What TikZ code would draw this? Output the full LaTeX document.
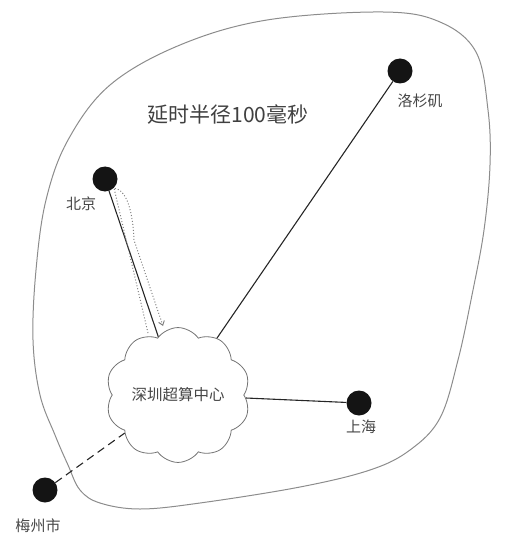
\documentclass[tikz,border=0pt]{standalone}
\usepackage{fontspec}
\newfontfamily\cjk{Noto Sans CJK SC}
\usetikzlibrary{shapes.symbols,arrows.meta}

\begin{document}
\begin{tikzpicture}[x=1pt,y=-1pt,
		city/.style={circle,fill=black!92,minimum size=25pt,inner sep=0pt},
		place/.style={font=\cjk\fontsize{15}{15}\selectfont,text=black!72,inner sep=1pt},
		link/.style={draw=black!85,line width=1.1pt},
	]
	\useasboundingbox (0,0) rectangle (508,548);
	% latency region
	\draw[black!45,line width=1pt] plot[smooth cycle,tension=0.6] coordinates {
		(267,20) (383,12) (440,22) (476,52) (488,110) (490,165) (484,230)
		(472,295) (458,360) (440,418) (410,450) (370,470) (300,487) (200,503)
		(140,509) (100,503) (80,490) (68,465) (55,435) (40,395) (33,340)
		(36,270) (46,200) (68,140) (110,85) (180,45)};
	\node[font=\cjk\fontsize{21}{21}\selectfont,text=black!75] (radius) at (228,114) {延时半径100毫秒};

	\node[cloud,cloud puffs=10,cloud puff arc=110,aspect=1.1,draw=black!55,line width=0.8pt,inner sep=0pt,
		minimum width=143pt,minimum height=130pt,font=\cjk\fontsize{15.5}{15.5}\selectfont,text=black!72] (sz) at (178,395) {深圳超算中心};

	\node[city] (bj) at (105,179) {};
	\node[city] (la) at (400,71) {};
	\node[city] (sh) at (359,403) {};
	\node[city] (mz) at (45,490) {};

	\node[place] (bjname) at (81,204) {北京};
	\node[place] (laname) at (420,101) {洛杉矶};
	\node[place] (shname) at (361,427) {上海};
	\node[place] (mzname) at (38,526) {梅州市};

	\draw[link] (bj) -- (sz);
	\draw[link] (la) -- (sz);
	\draw[link] (sz) -- (sh);
	\draw[black!85,line width=1.1pt,dash pattern=on 8pt off 5pt] (mz) -- (sz);

	% round trip
	\coordinate (tripin) at (148,333);
	\coordinate (tripout) at (163,326);
	\draw[black!50,dotted,line width=1pt,-{Straight Barb[length=4pt,width=6pt]}]
		(tripin) -- (bj.south east) .. controls +(14,2) and +(-1,-25) .. (134,240) -- (tripout);
\end{tikzpicture}
\end{document}
